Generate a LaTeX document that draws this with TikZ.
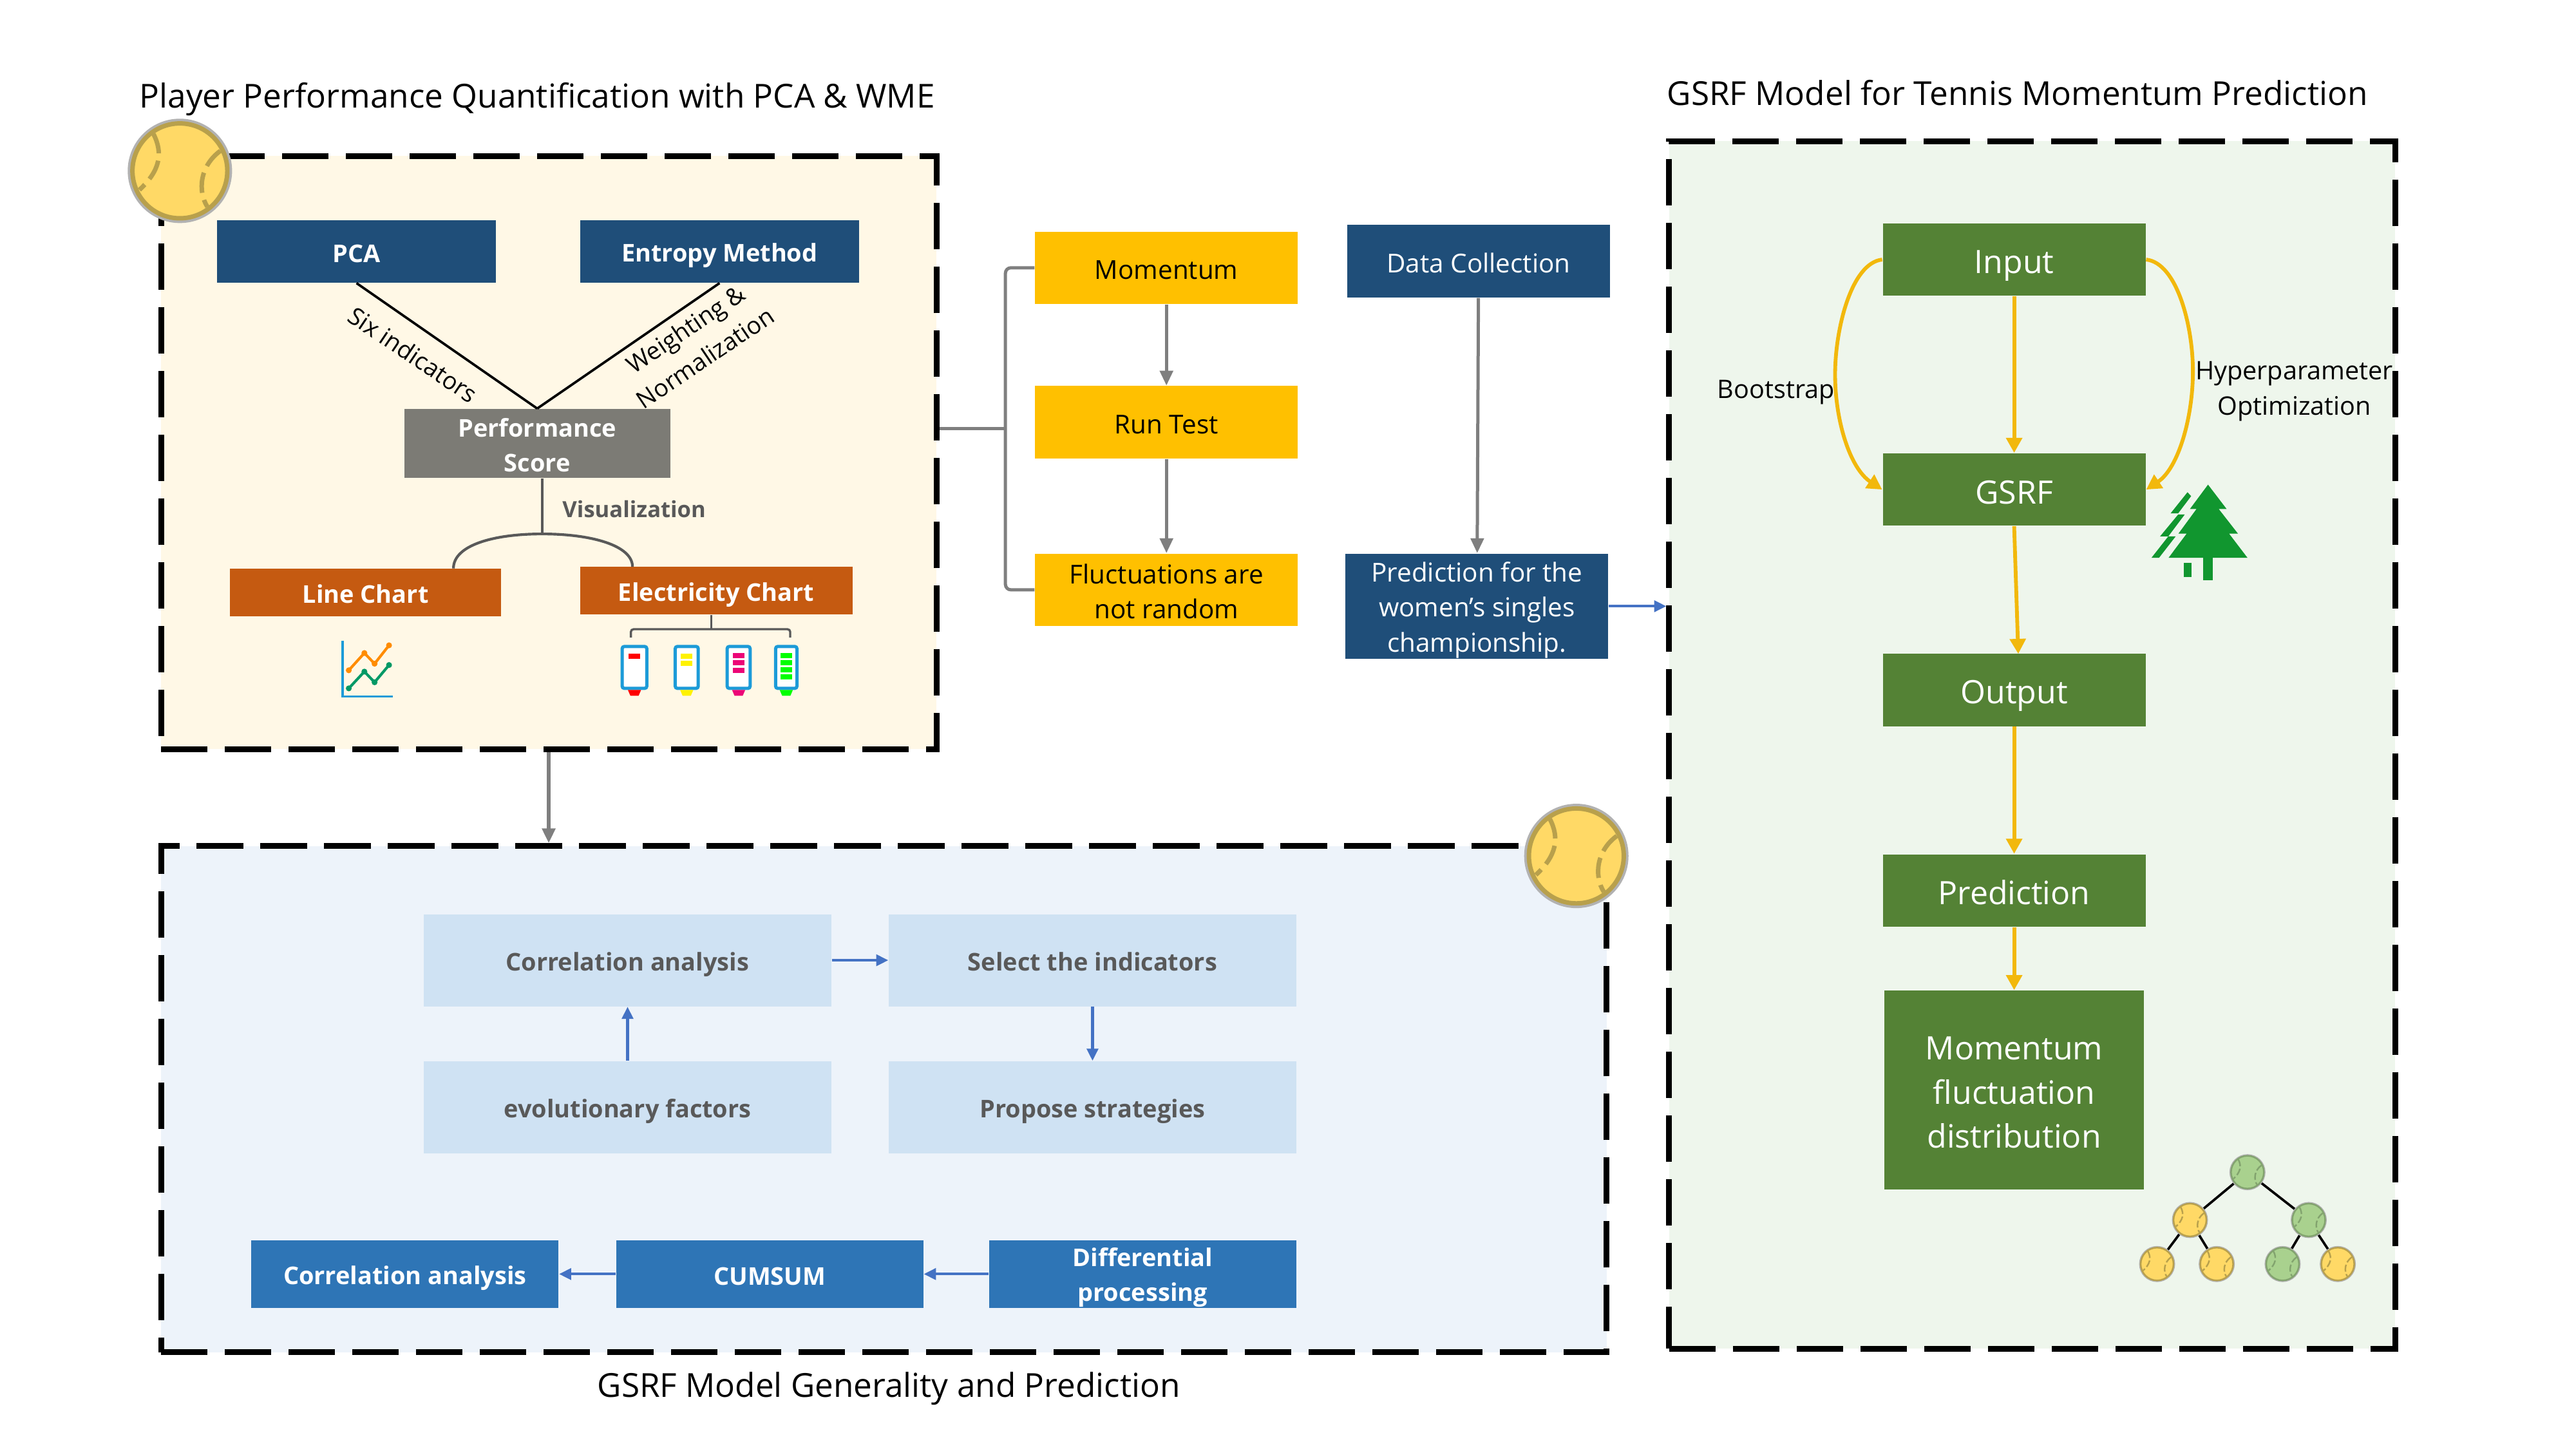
\documentclass[tikz,border=0pt]{standalone}
\usepackage{fontspec}
\setmainfont{Open Sans}
\usetikzlibrary{arrows.meta, positioning}

\definecolor{cream}{HTML}{FFF8E6}
\definecolor{iceblue}{HTML}{EDF3FA}
\definecolor{mint}{HTML}{EEF6EC}
\definecolor{navy}{HTML}{1F4E79}
\definecolor{midblue}{HTML}{2E75B6}
\definecolor{paleblue}{HTML}{CFE2F3}
\definecolor{rust}{HTML}{C55A11}
\definecolor{amber}{HTML}{FFC000}
\definecolor{leaf}{HTML}{548235}
\definecolor{stone}{HTML}{7C7B75}
\definecolor{linkgrey}{HTML}{7F7F7F}
\definecolor{darktext}{HTML}{595959}
\definecolor{linkblue}{HTML}{4472C4}
\definecolor{curveamber}{HTML}{F2B80C}
\definecolor{ballyellow}{HTML}{FFD966}
\definecolor{ballseam}{HTML}{B8A04C}
\definecolor{ballgreen}{HTML}{A9D18E}
\definecolor{greenseam}{HTML}{82A36E}
\definecolor{pine}{HTML}{11962F}
\definecolor{penblue}{HTML}{1C9BD8}

\tikzset{
    size/.style 2 args={minimum width=#1*0.61224pt, minimum height=#2*0.61224pt},
    panel/.style={draw=black, line width=2.16pt, dash pattern=on 17.3pt off 6.46pt, inner sep=0pt},
    evenline/.style={execute at begin node={\rule[-.2em]{0pt}{1.29em}}, execute at end node={\rule[-.2em]{0pt}{.2em}}},
    box/.style={inner sep=0pt, align=center, text=white, evenline},
    boldbox/.style={box, font=\fontsize{9.1}{13}\selectfont\bfseries},
    plainbox/.style={box, font=\fontsize{9.7}{13}\selectfont},
    greenbox/.style={box, fill=leaf, font=\fontsize{12}{16.5}\selectfont},
    palebox/.style={box, fill=paleblue, text=darktext, font=\fontsize{9.1}{13}\selectfont\bfseries},
    heading/.style={inner sep=0pt, evenline, font=\fontsize{12.3}{15}\selectfont},
    note/.style={inner sep=0pt, align=center, evenline, font=\fontsize{9.5}{13.2}\selectfont},
    slanted/.style={note, font=\fontsize{9}{13}\selectfont},
    greyarrow/.style={draw=linkgrey, line width=1.2pt, -{Triangle[length=5.5pt,width=4.8pt]}},
    bluearrow/.style={draw=linkblue, line width=1pt, -{Triangle[length=4.5pt,width=4.2pt]}},
    amberarrow/.style={draw=curveamber, line width=1.4pt, -{Triangle[length=5.6pt,width=5.8pt]}},
}

% Lowers a text of several lines a little
\newcommand{\firstline}{\rule{0pt}{1.06em}}

% Tennis ball: x, y, radius, fill, seam
\newcommand{\ballicon}[5]{
    \pgfmathsetmacro{\ballw}{#3*0.055}
    \pgfmathsetmacro{\ballon}{#3*0.25}
    \pgfmathsetmacro{\balloff}{#3*0.09}
    \begin{scope}[shift={(#1,#2)}, scale=#3]
        \draw[fill=#4, draw=gray!60, line width=\ballw pt] (0,0) circle (1);
        \draw[draw=#5, line width=\ballw pt] (0,0) circle (0.95);
        \draw[draw=#5, line width=\ballw pt, dash pattern=on \ballon pt off \balloff pt]
            (-0.53,-0.74) .. controls (-0.33,-0.35) and (-0.4,0.0) .. (-0.81,0.38);
        \draw[draw=#5, line width=\ballw pt, dash pattern=on \ballon pt off \balloff pt]
            (0.81,-0.40) .. controls (0.4,-0.1) and (0.35,0.4) .. (0.55,0.72);
    \end{scope}
}

\begin{document}
\begin{tikzpicture}[x=0.61224pt, y=-0.61224pt]
    \useasboundingbox (0,0) rectangle (1568,882);

    % Panels
    \node[panel, fill=cream, size={472}{361}] (panelA) at (334,275.5) {};
    \node[panel, fill=iceblue, size={880}{308}] (panelB) at (538,669) {};
    \node[panel, fill=mint, size={442}{735}] (panelC) at (1237,453.5) {};

    % Headings
    \node[heading] (titleA) at (327,57) {Player Performance Quantification with PCA \& WME};
    \node[heading] (titleB) at (541,842) {GSRF Model Generality and Prediction};
    \node[heading] (titleC) at (1228,55) {GSRF Model for Tennis Momentum Prediction};

    % Performance quantification
    \node[boldbox, fill=navy, size={170}{38}] (pca) at (217,153) {PCA};
    \node[boldbox, fill=navy, size={170}{38}] (entropy) at (438,153) {Entropy Method};
    \node[boldbox, fill=stone, size={162}{42}] (perfScore) at (327,270) {\firstline Performance\\Score};
    \node[boldbox, fill=rust, size={165}{29}] (lineChart) at (222.5,360.5) {Line Chart};
    \node[boldbox, fill=rust, size={166}{29}] (elecChart) at (436,359.5) {Electricity Chart};
    \draw[line width=0.9pt] (pca.south) -- (perfScore.north);
    \draw[line width=0.9pt] (entropy.south) -- (perfScore.north);
    \node[slanted, rotate=-34] (sixLabel) at (252,215) {Six indicators};
    \node[slanted, rotate=34] (weightLabel) at (424,210) {Weighting \&\\Normalization};

    % Visualization fork
    \coordinate (forkTop) at (330,325);
    \coordinate (forkLeft) at (276,346);
    \coordinate (forkRight) at (385,345);
    \draw[draw=darktext, line width=1pt] (perfScore.south -| forkTop) -- (forkTop);
    \draw[draw=darktext, line width=1pt] (forkLeft) .. controls (276,332) and (300,325) .. (forkTop)
        .. controls (360,325) and (385,332) .. (forkRight);
    \node[note, text=darktext, font=\fontsize{8.3}{12}\selectfont\bfseries] (visLabel) at (386,309) {Visualization};

    % Line chart icon
    \draw[draw=penblue, line width=0.8pt] (208.5,390) -- (208.5,424) -- (239,424);
    \draw[draw=orange!90!yellow, line width=1pt] (212.3,408) -- (221.8,397.5) -- (228,404) -- (236.8,392.8);
    \draw[draw=teal!80!green, line width=1pt] (212.3,419) -- (221.8,408.8) -- (228,415.3) -- (236.8,404.8);
    \foreach \cx/\cy in {212.3/408,221.8/397.5,228/404,236.8/392.8} {
        \fill[orange!90!yellow] (\cx,\cy) circle (1.8);
    }
    \foreach \cx/\cy in {212.3/419,221.8/408.8,228/415.3,236.8/404.8} {
        \fill[teal!80!green] (\cx,\cy) circle (1.8);
    }

    % Electricity chart icon
    \coordinate (penTop) at (433,383);
    \draw[draw=darktext, line width=0.8pt] (elecChart.south -| penTop) -- (penTop);
    \draw[draw=darktext, line width=0.8pt, rounded corners=1pt] (384,388) -- (384,383) -- (481,383) -- (481,388);
    \foreach \cx/\hw/\penc/\rows in {386.2/7.5/red/{399.4},418/7/yellow/{399.4,403.6},449.6/7/magenta!80!red/{399,403.5,408},478.6/6.5/green/{399,403.5,407.7,412}} {
        \draw[draw=penblue, fill=white, line width=1.2pt, rounded corners=0.8pt] (\cx-\hw,393.5) rectangle (\cx+\hw,419);
        \fill[\penc] (\cx-4,420) -- (\cx+4,420) -- (\cx+2.5,423.5) -- (\cx-2.5,423.5) -- cycle;
        \foreach \rowy in \rows {
            \fill[\penc] (\cx-3.5,\rowy-1.6) rectangle (\cx+3.5,\rowy+1.6);
        }
    }

    % Run test column
    \node[plainbox, fill=amber, text=black, size={160}{44}] (momentum) at (710,163) {Momentum};
    \node[plainbox, fill=amber, text=black, size={160}{44}] (runTest) at (710,257) {Run Test};
    \node[plainbox, fill=amber, text=black, size={160}{44}] (fluct) at (710,359) {\firstline Fluctuations are\\not random};
    \draw[greyarrow] (momentum) -- (runTest);
    \draw[greyarrow] (runTest) -- (fluct);

    % Bracket from the first panel
    \coordinate (bracketMid) at (612,261);
    \draw[draw=linkgrey, line width=1.2pt] (panelA.east |- bracketMid) -- (bracketMid);
    \draw[draw=linkgrey, line width=1.2pt, rounded corners=2pt] (momentum.west) -- (bracketMid |- momentum.west)
        -- (bracketMid |- fluct.west) -- (fluct.west);

    % Data column
    \node[plainbox, fill=navy, size={160}{44}] (dataColl) at (900,159) {Data Collection};
    \node[plainbox, fill=navy, size={160}{64}] (predWomen) at (899,369) {\firstline Prediction for the\\women's singles\\championship.};
    \draw[greyarrow] (dataColl) -- (predWomen);
    \draw[bluearrow] (predWomen.east) -- (predWomen.east -| panelC.west);
    \draw[greyarrow, line width=1.4pt] (panelA.south) -- (panelA.south |- panelB.north);

    % Generality panel
    \node[palebox, size={248}{56}] (corrPale) at (382,584.5) {Correlation analysis};
    \node[palebox, size={248}{56}] (selectInd) at (665,584.5) {Select the indicators};
    \node[palebox, size={248}{56}] (evoFactors) at (382,674) {evolutionary factors};
    \node[palebox, size={248}{56}] (strategies) at (665,674) {Propose strategies};
    \draw[bluearrow] (corrPale) -- (selectInd);
    \draw[bluearrow] (selectInd) -- (strategies);
    \draw[bluearrow] (evoFactors) -- (corrPale);
    \node[boldbox, fill=midblue, size={187}{41}] (corrDark) at (246.5,775.5) {Correlation analysis};
    \node[boldbox, fill=midblue, size={187}{41}] (cumsum) at (468.5,775.5) {CUMSUM};
    \node[boldbox, fill=midblue, size={187}{41}] (diffProc) at (695.5,775.5) {\firstline Differential\\processing};
    \draw[bluearrow] (diffProc) -- (cumsum);
    \draw[bluearrow] (cumsum) -- (corrDark);

    % GSRF column
    \node[greenbox, size={160}{44}] (input) at (1226,158) {Input};
    \node[greenbox, size={160}{44}] (gsrf) at (1226,298) {GSRF};
    \node[greenbox, size={160}{44}] (output) at (1226,420) {Output};
    \node[greenbox, size={160}{44}] (prediction) at (1226,542) {Prediction};
    \node[greenbox, size={158}{121}] (distrib) at (1226,663.5) {\firstline Momentum\\fluctuation\\distribution};
    \coordinate (outputIn) at (1228.5,398);
    \coordinate (bootBend) at (1117,228);
    \coordinate (hyperBend) at (1334.8,226);
    \draw[amberarrow] (input) -- (gsrf);
    \draw[amberarrow] (gsrf.south) -- (outputIn);
    \draw[amberarrow] (output) -- (prediction);
    \draw[amberarrow] (prediction) -- (distrib);
    \draw[amberarrow] (input.west) .. controls (1127,160) and (1117,200) .. (bootBend)
        .. controls (1117,256) and (1126,285) .. (gsrf.west);
    \draw[amberarrow] (input.east) .. controls (1325,160) and (1334.8,198) .. (hyperBend)
        .. controls (1334.8,254) and (1326,285) .. (gsrf.east);
    \node[note] (bootLabel) at (1081,236) {Bootstrap};
    \node[note] (hyperLabel) at (1396.5,235.5) {\firstline Hyperparameter\\Optimization};

    % Pine icon
    \fill[pine] (1344,295) -- (1355.3,309.8) -- (1350.5,309.8) -- (1362.2,324.8) -- (1356.8,324.8)
        -- (1368,339.5) -- (1320,339.5) -- (1331,324.8) -- (1326,324.8) -- (1337,309.8) -- (1333,309.8) -- cycle;
    \fill[pine] (1341,339.5) rectangle (1347,353);
    \fill[pine] (1329.2,342.6) rectangle (1334,351.3);
    \fill[pine] (1321.2,312.5) -- (1331.5,299.6) -- (1333.7,302) -- (1325.8,312.5) -- cycle;
    \fill[pine] (1314.8,326.5) -- (1325.8,313.2) -- (1329.8,313.2) -- (1319.8,326.5) -- cycle;
    \fill[pine] (1309.6,339.5) -- (1319.8,326.5) -- (1324.3,326.5) -- (1314.2,339.5) -- cycle;

    % Ball tree
    \coordinate (treeRoot) at (1368,713.5);
    \coordinate (treeL) at (1333,742.6);
    \coordinate (treeR) at (1405.3,742.6);
    \coordinate (treeLL) at (1313,769.4);
    \coordinate (treeLR) at (1349.3,769.4);
    \coordinate (treeRL) at (1389.4,769.4);
    \coordinate (treeRR) at (1423,769.4);
    \foreach \from/\to in {treeRoot/treeL,treeRoot/treeR,treeL/treeLL,treeL/treeLR,treeR/treeRL,treeR/treeRR} {
        \draw[line width=0.9pt] (\from) -- (\to);
    }
    \ballicon{1368}{713.5}{10.5}{ballgreen}{greenseam}
    \ballicon{1333}{742.6}{10.5}{ballyellow}{ballseam}
    \ballicon{1405.3}{742.6}{10.5}{ballgreen}{greenseam}
    \ballicon{1313}{769.4}{10.5}{ballyellow}{ballseam}
    \ballicon{1349.3}{769.4}{10.5}{ballyellow}{ballseam}
    \ballicon{1389.4}{769.4}{10.5}{ballgreen}{greenseam}
    \ballicon{1423}{769.4}{10.5}{ballyellow}{ballseam}

    % Corner balls
    \ballicon{109.5}{104}{30.4}{ballyellow}{ballseam}
    \ballicon{959.5}{521}{30.4}{ballyellow}{ballseam}
\end{tikzpicture}
\end{document}
